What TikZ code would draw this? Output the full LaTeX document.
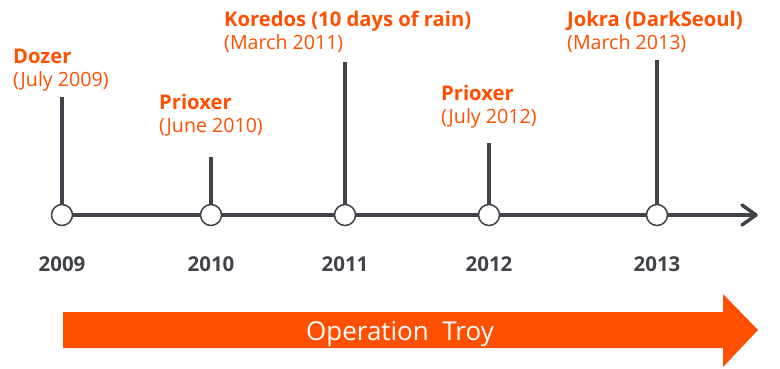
\documentclass[tikz,border=0pt]{standalone}
\usepackage{fontspec}
\setmainfont{Open Sans}
\definecolor{orng}{HTML}{FF4F00}
\definecolor{dgray}{HTML}{404349}
\begin{document}
\begin{tikzpicture}[x=1pt,y=-1pt,
  stem/.style={draw=dgray,line width=3.5pt},
  dot/.style={circle,draw=dgray,fill=white,line width=1.5pt,minimum size=21pt,inner sep=0pt},
  evname/.style={anchor=base west,inner sep=0pt,text=orng,font=\bfseries\fontsize{20.2}{22}\selectfont},
  evdate/.style={anchor=base west,inner sep=0pt,text=orng,font=\fontsize{19.6}{22}\selectfont},
  yr/.style={anchor=base,inner sep=0pt,text=dgray,font=\bfseries\fontsize{20.5}{22}\selectfont}]
\useasboundingbox (0,0) rectangle (780,368);
% axis
\coordinate (tip) at (756,215);
\draw[stem] (62,215) coordinate (a0) -- (tip);
\draw[stem,line cap=round,line join=round] (742,205) coordinate (b1) -- (tip) -- (742,225) coordinate (b2);
% stems
\coordinate (s09) at (62,97);
\coordinate (s10) at (211,157);
\coordinate (s11) at (345,62);
\coordinate (s12) at (489,143);
\coordinate (s13) at (657,60);
\node[dot] (d09) at (62,215) {};
\node[dot] (d10) at (211,215) {};
\node[dot] (d11) at (345,215) {};
\node[dot] (d12) at (489,215) {};
\node[dot] (d13) at (657,215) {};
\draw[stem] (d09.north) -- (s09);
\draw[stem] (d10.north) -- (s10);
\draw[stem] (d11.north) -- (s11);
\draw[stem] (d12.north) -- (s12);
\draw[stem] (d13.north) -- (s13);
% years
\node[yr] (y09) at (62,271) {2009};
\node[yr] (y10) at (211,271) {2010};
\node[yr] (y11) at (345,271) {2011};
\node[yr] (y12) at (489,271) {2012};
\node[yr] (y13) at (657,271) {2013};
% events
\node[evname] (n09) at (13,63) {Dozer};
\node[evdate] (t09) at (13,86) {(July 2009)};
\node[evname] (n10) at (159,109) {Prioxer};
\node[evdate] (t10) at (159,132) {(June 2010)};
\node[evname] (n11) at (224,26) {Koredos (10 days of rain)};
\node[evdate] (t11) at (224,49) {(March 2011)};
\node[evname] (n12) at (441,100) {Prioxer};
\node[evdate] (t12) at (441,123) {(July 2012)};
\node[evname] (n13) at (567,26) {Jokra (DarkSeoul)};
\node[evdate] (t13) at (567,49) {(March 2013)};
% big arrow
\fill[orng] (63,312) -- (723,312) -- (723,294) -- (758,330) -- (723,367) -- (723,348) -- (63,348) -- cycle;
\node[inner sep=0pt,anchor=base,text=white,font=\fontsize{26}{30}\selectfont] (op) at (400,340) {Operation\ \ Troy};
\end{tikzpicture}
\end{document}
